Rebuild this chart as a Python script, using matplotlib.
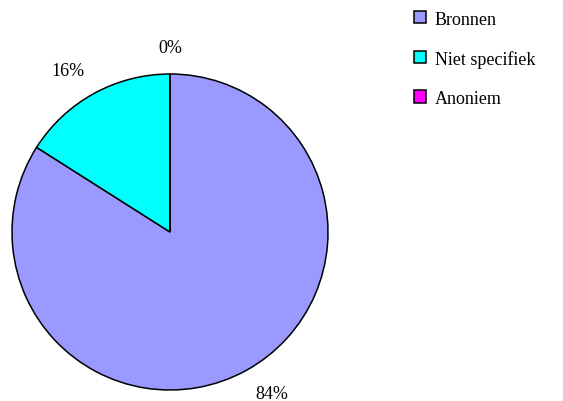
import matplotlib
matplotlib.use("Agg")
import matplotlib.pyplot as plt
import numpy as np

categories = ["Bronnen", "Niet specifiek", "Anoniem"]
values = [84, 16, 0]
colors = ["#9999FF", "#00FFFF", "#FF00FF"]

plt.rcParams['font.family'] = ['Liberation Serif', 'DejaVu Serif']

W, H = 563, 402
fig = plt.figure(figsize=(W / 100, H / 100), dpi=100)
cx, cy, r = 170, 233, 158
ax = fig.add_axes([(cx - r) / W, (H - cy - r) / H, 2 * r / W, 2 * r / H])

wedges, _ = ax.pie(
    values, colors=colors, startangle=90, counterclock=False,
    wedgeprops=dict(edgecolor="black", linewidth=1.1))

total = sum(values)
for w, v in zip(wedges, values):
    mid = np.deg2rad((w.theta1 + w.theta2) / 2)
    x = 1.34 * np.cos(mid)
    y = 1.17 * np.sin(mid)
    ax.text(x, y, f"{100 * v / total:.0f}%", ha="center", va="center",
            fontsize=13, color="black")

ax.set_xlim(-1, 1)
ax.set_ylim(-1, 1)
ax.set_aspect("equal")
ax.axis("off")

fig.legend(wedges, categories, loc="upper left",
           bbox_to_anchor=(414 / W, 1 - 11.5 / H), frameon=False,
           fontsize=13, handlelength=0.66, handleheight=0.66,
           handletextpad=0.5, labelspacing=1.23,
           borderaxespad=0, borderpad=0)

fig.savefig("out.png", dpi=100)
